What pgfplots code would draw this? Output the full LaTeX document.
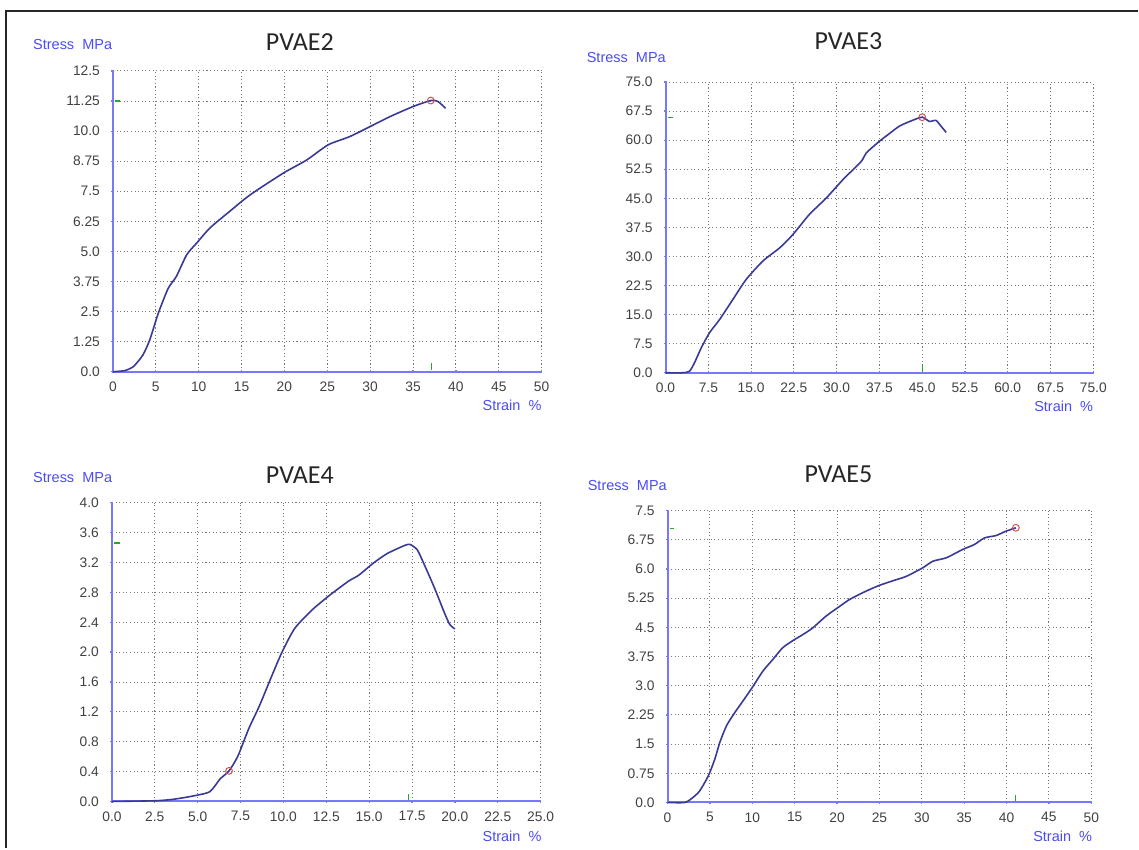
\documentclass[border=0pt]{standalone}
\usepackage{fontspec}
\setmainfont{Liberation Sans}
\newfontfamily\titlefont{Carlito}
\usepackage{pgfplots}
\pgfplotsset{compat=1.18}

\definecolor{axisblue}{RGB}{120,120,252}
\definecolor{curveblue}{RGB}{58,58,150}
\definecolor{labelblue}{RGB}{75,75,245}
\definecolor{ticktext}{RGB}{65,65,65}
\definecolor{gridgray}{RGB}{120,120,120}
\definecolor{peakred}{RGB}{205,85,85}
\definecolor{markgreen}{RGB}{40,170,40}

\pgfplotsset{
  panel/.style={
    scale only axis,
    anchor=south west,
    axis lines=left,
    axis line style={axisblue, line width=2pt, -},
    enlargelimits=false,
    clip=false,
    grid=major,
    grid style={gridgray, line width=0.9pt, dash pattern=on 1.1pt off 2.5pt},
    tick style={axisblue, line width=1.2pt},
    major tick length=3pt,
    tick align=center,
    tick label style={font=\fontsize{13.8}{14}\selectfont, text=ticktext},
    yticklabel style={xshift=-8pt},
    xticklabel style={yshift=-5pt},
  },
  curve/.style={curveblue, line width=1.6pt, smooth, tension=0.4, mark=none},
  peak/.style={only marks, mark=o, mark size=3.4pt, peakred, line width=1pt},
  gmark/.style={markgreen, line width=1.1pt, mark=none},
}

\begin{document}
\begin{tikzpicture}
\path (0pt,0pt) rectangle (1139pt,849pt);
\draw[black!85, line width=1.5pt] (6pt,0pt) -- (6pt,838pt) -- (1139pt,838pt);

% ---------- PVAE2 ----------
\begin{axis}[panel, at={(113pt,477pt)}, width=429pt, height=301pt,
    xmin=0, xmax=50, ymin=0, ymax=12.5,
    xtick={0,5,...,50},
    xticklabels={0,5,10,15,20,25,30,35,40,45,50},
    ytick={0,1.25,2.5,3.75,5,6.25,7.5,8.75,10,11.25,12.5},
    yticklabels={0.0,1.25,2.5,3.75,5.0,6.25,7.5,8.75,10.0,11.25,12.5}]
\addplot[curve] coordinates {
 (0,0) (1.4,0.05) (2.4,0.22) (3.5,0.7) (4.3,1.33) (5.3,2.44) (6.45,3.47)
 (7.4,3.96) (8.6,4.86) (9.75,5.34) (11.3,5.97) (13.6,6.66) (16,7.35)
 (19.85,8.25) (22.6,8.8) (25.1,9.43) (27.6,9.77) (30,10.19) (32.3,10.6)
 (35,11.02) (37.07,11.27) (37.9,11.23) (38.8,10.95)};
\addplot[peak] coordinates {(37.07,11.27)};
\addplot[gmark] coordinates {(0.25,11.25) (0.8,11.25)};
\addplot[gmark] coordinates {(37.2,0.08) (37.2,0.35)};
\end{axis}

% ---------- PVAE3 ----------
\begin{axis}[panel, at={(666pt,476pt)}, width=428pt, height=291pt,
    xmin=0, xmax=75, ymin=0, ymax=75,
    xtick={0,7.5,...,75},
    xticklabels={0.0,7.5,15.0,22.5,30.0,37.5,45.0,52.5,60.0,67.5,75.0},
    ytick={0,7.5,...,75},
    yticklabels={0.0,7.5,15.0,22.5,30.0,37.5,45.0,52.5,60.0,67.5,75.0}]
\addplot[curve] coordinates {
 (0,0) (3.0,0) (4.2,0.4) (5.08,2.6) (6.25,6.4) (7.7,10.3) (9.46,13.7)
 (11.8,18.9) (14.1,24) (17.05,28.8) (20,32.2) (22.3,35.6) (25.2,40.8)
 (28.2,45.1) (31.1,49.8) (34.3,54.5) (35.2,56.7) (37.5,59.7) (39,61.4)
 (41,63.6) (43.3,65.1) (45,65.9) (46.3,64.8) (47.4,65.1) (48.3,63.6)
 (49.2,62)};
\addplot[peak] coordinates {(45,65.9)};
\addplot[gmark] coordinates {(0.4,65.9) (1.3,65.9)};
\addplot[gmark] coordinates {(45,0.3) (45,2.0)};
\end{axis}

% ---------- PVAE4 ----------
\begin{axis}[panel, at={(112pt,47pt)}, width=429pt, height=299pt,
    xmin=0, xmax=25, ymin=0, ymax=4,
    xtick={0,2.5,...,25},
    xticklabels={0.0,2.5,5.0,7.5,10.0,12.5,15.0,17.5,20.0,22.5,25.0},
    ytick={0,0.4,...,4},
    yticklabels={0.0,0.4,0.8,1.2,1.6,2.0,2.4,2.8,3.2,3.6,4.0}]
\addplot[curve] coordinates {
 (0,0) (2.58,0.01) (3.6,0.03) (4.65,0.07) (5.7,0.13) (6.3,0.3) (6.83,0.41)
 (7.35,0.61) (7.97,0.97) (8.6,1.28) (9.32,1.68) (9.94,2.01) (10.67,2.32)
 (11.7,2.57) (12.75,2.77) (13.8,2.95) (14.4,3.03) (15.24,3.19) (16.06,3.32)
 (17.1,3.43) (17.4,3.44) (17.8,3.37) (18.1,3.23) (18.77,2.88) (19.4,2.52)
 (19.7,2.37) (20.0,2.31)};
\addplot[peak] coordinates {(6.83,0.41)};
\addplot[gmark] coordinates {(0.13,3.46) (0.45,3.46)};
\addplot[gmark] coordinates {(17.3,0.015) (17.3,0.1)};
\end{axis}

% ---------- PVAE5 ----------
\begin{axis}[panel, at={(668pt,46pt)}, width=424pt, height=292pt,
    xmin=0, xmax=50, ymin=0, ymax=7.5,
    xtick={0,5,...,50},
    xticklabels={0,5,10,15,20,25,30,35,40,45,50},
    ytick={0,0.75,1.5,2.25,3,3.75,4.5,5.25,6,6.75,7.5},
    yticklabels={0.0,0.75,1.5,2.25,3.0,3.75,4.5,5.25,6.0,6.75,7.5}]
\addplot[curve] coordinates {
 (0,0) (2.04,0) (3.0,0.13) (3.8,0.3) (4.8,0.68) (5.57,1.11) (6.16,1.54)
 (6.95,1.97) (7.93,2.31) (8.9,2.61) (10.1,2.99) (11.26,3.38) (12.44,3.68)
 (13.6,3.98) (15,4.19) (16,4.32) (17.15,4.49) (18.7,4.79) (20.3,5.04)
 (21.5,5.22) (23.4,5.43) (25,5.58) (26.6,5.7) (28.15,5.81) (30.1,6.03)
 (31.3,6.2) (32.9,6.29) (34.8,6.5) (36.2,6.63) (37.4,6.8) (38.75,6.86)
 (39.9,6.97) (41.1,7.06)};
\addplot[peak] coordinates {(41.1,7.06)};
\addplot[gmark] coordinates {(0.25,7.04) (0.8,7.04)};
\addplot[gmark] coordinates {(41.1,0.04) (41.1,0.2)};
\end{axis}

% titles and axis names
\begin{scope}[every node/.style={inner sep=0pt}]
\node[font=\titlefont\fontsize{26}{26}\selectfont, text=black!85] at (300pt,807pt) {PVAE2};
\node[font=\titlefont\fontsize{26}{26}\selectfont, text=black!85] at (849pt,808pt) {PVAE3};
\node[font=\titlefont\fontsize{26}{26}\selectfont, text=black!85] at (300pt,374pt) {PVAE4};
\node[font=\titlefont\fontsize{26}{26}\selectfont, text=black!85] at (839pt,374pt) {PVAE5};
\node[anchor=west, font=\fontsize{14.5}{14.5}\selectfont, text=labelblue] at (33pt,804pt) {Stress\ \ MPa};
\node[anchor=west, font=\fontsize{14.5}{14.5}\selectfont, text=labelblue] at (587pt,791pt) {Stress\ \ MPa};
\node[anchor=west, font=\fontsize{14.5}{14.5}\selectfont, text=labelblue] at (33pt,371pt) {Stress\ \ MPa};
\node[anchor=west, font=\fontsize{14.5}{14.5}\selectfont, text=labelblue] at (588pt,363pt) {Stress\ \ MPa};
\node[anchor=east, font=\fontsize{14.5}{14.5}\selectfont, text=labelblue] at (542pt,443pt) {Strain\ \ \%};
\node[anchor=east, font=\fontsize{14.5}{14.5}\selectfont, text=labelblue] at (1094pt,442pt) {Strain\ \ \%};
\node[anchor=east, font=\fontsize{14.5}{14.5}\selectfont, text=labelblue] at (542pt,12pt) {Strain\ \ \%};
\node[anchor=east, font=\fontsize{14.5}{14.5}\selectfont, text=labelblue] at (1093pt,12pt) {Strain\ \ \%};
\end{scope}
\end{tikzpicture}
\end{document}
